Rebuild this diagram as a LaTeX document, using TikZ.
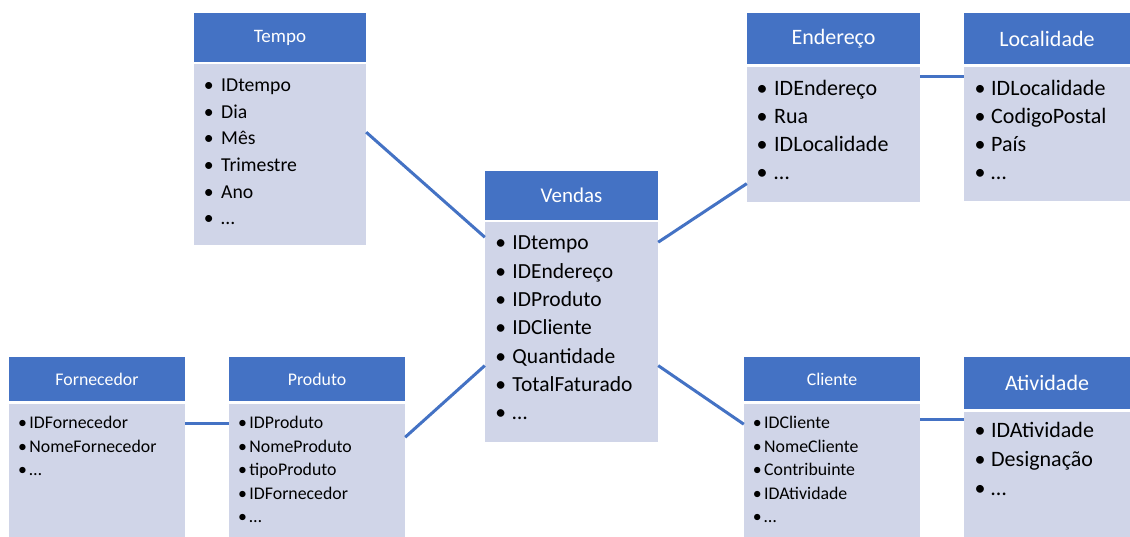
\documentclass[tikz,border=0pt]{standalone}
\usepackage{fontspec}
\setmainfont{Carlito}
\usetikzlibrary{positioning}

\definecolor{hdblue}{HTML}{4472C4}
\definecolor{bodygray}{HTML}{D0D5E8}
\newcommand\bl[1]{\makebox[#1pt][l]{\textbullet}}

\begin{document}
\begin{tikzpicture}[
        x=1pt, y=-1pt,
        head/.style={rectangle, fill=hdblue, text=white, inner sep=0pt},
        body/.style={rectangle, fill=bodygray, inner sep=0pt},
        items/.style={anchor=base west, inner sep=0pt, text width=150pt, align=left},
        link/.style={hdblue, line width=3pt}
    ]
    \path[use as bounding box, fill=white] (0,0) rectangle (1130,537);

    % Headers
    \node[head, minimum width=172, minimum height=49, font=\fontsize{19}{23}\selectfont] (tempo) at (280,37.5) {Tempo};
    \node[head, minimum width=173, minimum height=49, font=\fontsize{21}{25}\selectfont] (vendas) at (571.5,195.5) {Vendas};
    \node[head, minimum width=173, minimum height=51, font=\fontsize{22}{26}\selectfont] (endereco) at (833.5,38.5) {Endereço};
    \node[head, minimum width=166, minimum height=51, font=\fontsize{22}{26}\selectfont] (localidade) at (1047,38.5) {Localidade};
    \node[head, minimum width=176, minimum height=44, font=\fontsize{17.8}{21}\selectfont] (fornecedor) at (97,379) {Fornecedor};
    \node[head, minimum width=176, minimum height=44, font=\fontsize{17.8}{21}\selectfont] (produto) at (317,379) {Produto};
    \node[head, minimum width=176, minimum height=44, font=\fontsize{17.8}{21}\selectfont] (cliente) at (832,379) {Cliente};
    \node[head, minimum width=166, minimum height=52, font=\fontsize{22}{26}\selectfont] (atividade) at (1047,383) {Atividade};

    % Bodies
    \node[body, minimum width=172, minimum height=181, below=2pt of tempo] (tempoB) {};
    \node[body, minimum width=173, minimum height=220, below=2pt of vendas] (vendasB) {};
    \node[body, minimum width=173, minimum height=135, below=3pt of endereco] (enderecoB) {};
    \node[body, minimum width=166, minimum height=134, below=3pt of localidade] (localidadeB) {};
    \node[body, minimum width=176, minimum height=133, below=3pt of fornecedor] (fornecedorB) {};
    \node[body, minimum width=176, minimum height=133, below=3pt of produto] (produtoB) {};
    \node[body, minimum width=176, minimum height=133, below=3pt of cliente] (clienteB) {};
    \node[body, minimum width=166, minimum height=125, below=3pt of atividade] (atividadeB) {};

    % Attributes
    \node[items, font=\fontsize{19.7}{26.6}\selectfont] (tempoL) at (203.6,91.7)
        {\bl{17.4}IDtempo\\ \bl{17.4}Dia\\ \bl{17.4}Mês\\ \bl{17.4}Trimestre\\ \bl{17.4}Ano\\ \bl{17.4}…};
    \node[items, font=\fontsize{21.5}{28.3}\selectfont] (vendasL) at (495.2,250)
        {\bl{17.1}IDtempo\\ \bl{17.1}IDEndereço\\ \bl{17.1}IDProduto\\ \bl{17.1}IDCliente\\ \bl{17.1}Quantidade\\ \bl{17.1}TotalFaturado\\ \bl{17.1}…};
    \node[items, font=\fontsize{22}{28}\selectfont] (enderecoL) at (756.5,95.7)
        {\bl{17.5}IDEndereço\\ \bl{17.5}Rua\\ \bl{17.5}IDLocalidade\\ \bl{17.5}…};
    \node[items, font=\fontsize{22}{28}\selectfont] (localidadeL) at (974.5,95.7)
        {\bl{16.5}IDLocalidade\\ \bl{16.5}CodigoPostal\\ \bl{16.5}País\\ \bl{16.5}…};
    \node[items, font=\fontsize{17.8}{23.5}\selectfont] (fornecedorL) at (18,428.7)
        {\bl{11.3}IDFornecedor\\ \bl{11.3}NomeFornecedor\\ \bl{11.3}…};
    \node[items, font=\fontsize{17.8}{23.5}\selectfont] (produtoL) at (238,428.7)
        {\bl{11.3}IDProduto\\ \bl{11.3}NomeProduto\\ \bl{11.3}tipoProduto\\ \bl{11.3}IDFornecedor\\ \bl{11.3}…};
    \node[items, font=\fontsize{17.8}{23.5}\selectfont] (clienteL) at (752.7,428.7)
        {\bl{11.3}IDCliente\\ \bl{11.3}NomeCliente\\ \bl{11.3}Contribuinte\\ \bl{11.3}IDAtividade\\ \bl{11.3}…};
    \node[items, font=\fontsize{22}{29}\selectfont] (atividadeL) at (974.5,437.7)
        {\bl{16.5}IDAtividade\\ \bl{16.5}Designação\\ \bl{16.5}…};

    % Links
    \draw[link] ([yshift=-68pt]tempoB.north east) -- ([yshift=-15pt]vendasB.north west);
    \draw[link] ([yshift=-20pt]vendasB.north east) -- ([yshift=19pt]enderecoB.south west);
    \draw[link] ([yshift=-9pt]enderecoB.north east) -- ([yshift=-9pt]localidadeB.north west);
    \draw[link] ([yshift=-33pt]produtoB.north east) -- ([yshift=77pt]vendasB.south west);
    \draw[link] ([yshift=77pt]vendasB.south east) -- ([yshift=-20pt]clienteB.north west);
    \draw[link] ([yshift=-19pt]fornecedorB.north east) -- ([yshift=-19pt]produtoB.north west);
    \draw[link] ([yshift=-15pt]clienteB.north east) -- ([yshift=-7pt]atividadeB.north west);

\end{tikzpicture}
\end{document}
